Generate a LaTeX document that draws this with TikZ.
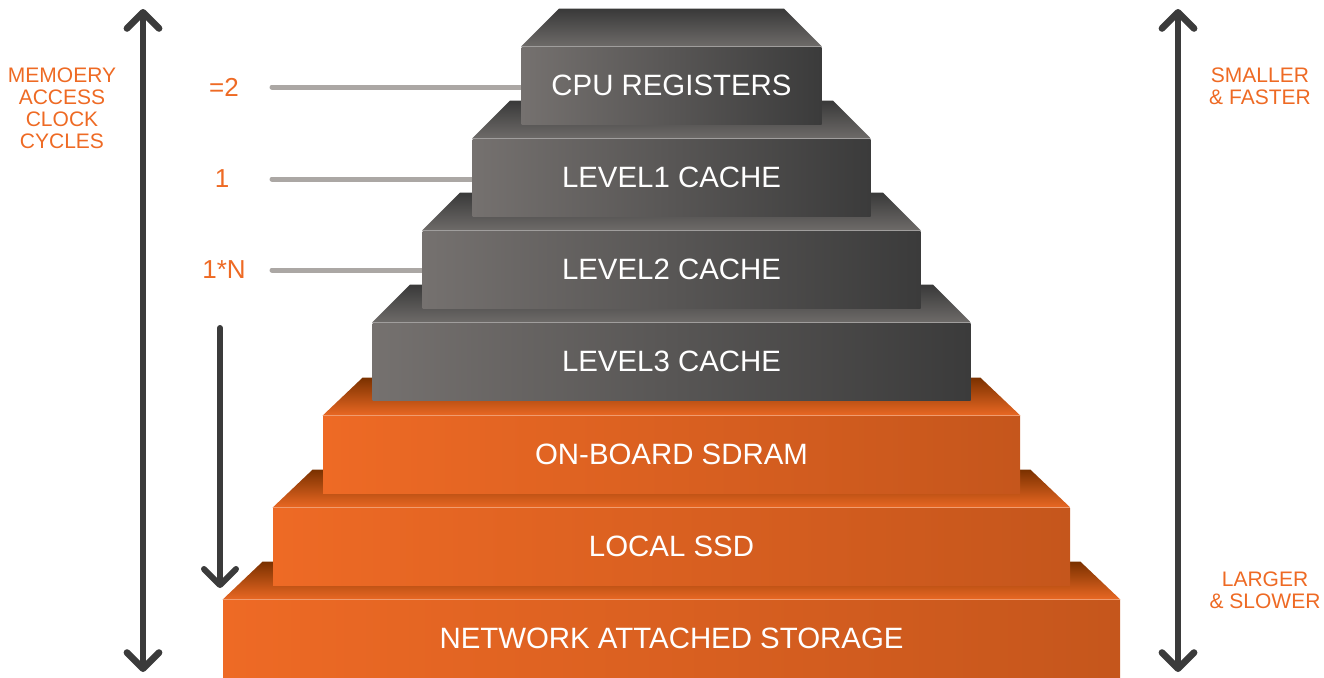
\documentclass[tikz,border=0pt]{standalone}
\usepackage{fontspec}
\setmainfont{Liberation Sans}
\usetikzlibrary{arrows.meta,backgrounds,calc,positioning}
\definecolor{hotorange}{HTML}{EE6A24}
\definecolor{grayL}{HTML}{75716F}
\definecolor{grayR}{HTML}{3B3B3B}
\definecolor{grayTop}{HTML}{393939}
\definecolor{grayBot}{HTML}{6E6B69}
\definecolor{orangeL}{HTML}{EE6A25}
\definecolor{orangeR}{HTML}{C5561C}
\definecolor{orangeTop}{HTML}{7A3100}
\definecolor{orangeBot}{HTML}{EA6823}
\definecolor{tickgray}{HTML}{ABA7A4}
\definecolor{arrowgray}{HTML}{3B3B3B}
\tikzset{
  face/.style={ % front of one step of the pyramid
    rectangle, minimum height=38.75pt, inner sep=0pt,
    text=white, font=\fontsize{14.7}{16}\selectfont
  },
  grayface/.style={face, left color=grayL, right color=grayR},
  orangeface/.style={face, left color=orangeL, right color=orangeR},
  graybevel/.style={top color=grayTop, bottom color=grayBot},
  orangebevel/.style={top color=orangeTop, bottom color=orangeBot},
  note/.style={ % orange side text
    align=center, text=hotorange, inner sep=0pt,
    font=\fontsize{10.5}{11}\selectfont
  },
  count/.style={text=hotorange, inner sep=0pt, font=\fontsize{13}{14}\selectfont},
  tick/.style={tickgray, line width=2.5pt, line cap=round},
  bigarrow/.style={arrowgray, line width=3.4pt, line cap=round,
    {Straight Barb[length=8pt,width=16pt,round]}-{Straight Barb[length=8pt,width=16pt,round]}}
}
\begin{document}
\begin{tikzpicture}[x=0.5pt, y=-0.5pt]
  \useasboundingbox (0,0) rectangle (1324,677);

  % steps, top to bottom
  \node[grayface, minimum width=150pt] (cpu) at (671.5,85.75) {CPU REGISTERS};
  \node[grayface, minimum width=199pt] (lone) at (671.5,177.75) {LEVEL1 CACHE};
  \node[grayface, minimum width=249pt] (ltwo) at (671.5,269.75) {LEVEL2 CACHE};
  \node[grayface, minimum width=299pt] (lthree) at (671.5,361.75) {LEVEL3 CACHE};
  \node[orangeface, minimum width=348.5pt] (sdram) at (671.5,454.75) {ON-BOARD SDRAM};
  \node[orangeface, minimum width=398.5pt] (ssd) at (671.5,546.75) {LOCAL SSD};
  \node[orangeface, minimum width=448.5pt] (nas) at (671.5,638.75) {NETWORK ATTACHED STORAGE};

  % clock cycle labels
  \node[count] (two) at (224,87) {=2};
  \node[count] (one) at (222,179) {1};
  \node[count] (onen) at (224,270) {1*N};
  \coordinate (tkone) at (272,87);
  \coordinate (tktwo) at (272,179);
  \coordinate (tkthree) at (272,270);

  \begin{pgfonlayer}{background}
    \foreach \n in {cpu,lone,ltwo,lthree}
      \shade[graybevel] ($(\n.north west)+(38,-38)$) -- ($(\n.north east)+(-38,-38)$)
        -- (\n.north east) -- (\n.north west) -- cycle;
    \foreach \n in {sdram,ssd,nas}
      \shade[orangebevel] ($(\n.north west)+(40,-38)$) -- ($(\n.north east)+(-40,-38)$)
        -- (\n.north east) -- (\n.north west) -- cycle;
    \draw[tick] (tkone) -- (tkone -| cpu.center);
    \draw[tick] (tktwo) -- (tktwo -| lone.center);
    \draw[tick] (tkthree) -- (tkthree -| ltwo.center);
  \end{pgfonlayer}

  % side arrows
  \coordinate (lefttop) at (143,9);
  \coordinate (leftbot) at (143,672);
  \coordinate (righttop) at (1178,9);
  \coordinate (rightbot) at (1178,672);
  \coordinate (downtop) at (220,328);
  \coordinate (downbot) at (220,588);
  \draw[bigarrow] (lefttop) -- (leftbot);
  \draw[bigarrow] (righttop) -- (rightbot);
  \draw[arrowgray, line width=3pt, line cap=round,
    -{Straight Barb[length=8pt,width=16pt,round]}] (downtop) -- (downbot);

  \node[note] (cycles) at (62,108) {MEMOERY\\ACCESS\\CLOCK\\CYCLES};
  \node[note] (faster) at (1260,86) {SMALLER\\\& FASTER};
  \node[note] (slower) at (1265,590) {LARGER\\\& SLOWER};
\end{tikzpicture}
\end{document}
